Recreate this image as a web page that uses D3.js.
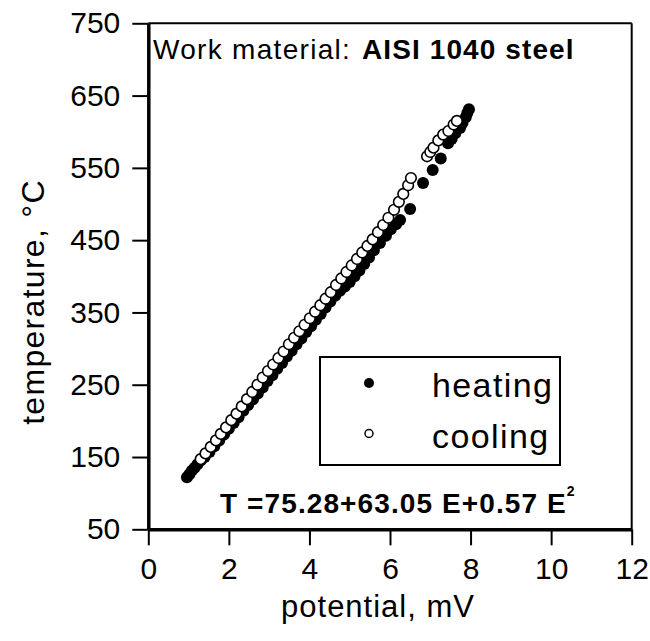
<!DOCTYPE html>
<html>
<head>
<meta charset="utf-8">
<script src="https://cdn.jsdelivr.net/npm/d3@7"></script>
<style>
  body { margin: 0; background: #fff; }
  svg { display: block; font-family: "Liberation Sans", Arial, sans-serif; }
</style>
</head>
<body>
<script>
var width = 650;
var height = 641;

// potential (mV) / temperature (C)
var heatingE = [0.96, 1.02, 1.08, 1.15, 1.22, 1.30, 1.40, 1.52, 1.64, 1.76, 1.88, 2.00, 2.12, 2.24,
  2.36, 2.48, 2.60, 2.72, 2.84, 2.96, 3.08, 3.20, 3.32, 3.44, 3.56, 3.68, 3.80, 3.92, 4.04, 4.16,
  4.28, 4.40, 4.52, 4.64, 4.76, 4.88, 5.00, 5.12, 5.24, 5.36, 5.48, 5.60, 5.75, 5.90, 6.02, 6.15,
  6.25, 6.50, 6.82, 7.06, 7.26, 7.44, 7.53, 7.62, 7.74, 7.80, 7.88, 7.92, 7.96];
var heatingT = [122, 126, 131, 135, 140, 145, 150, 157, 165, 173, 181, 189, 197, 205,
  214, 222, 230, 238, 246, 255, 263, 272, 280, 289, 297, 306, 314, 323, 331, 340,
  348, 357, 365, 373, 380, 386, 392, 400, 408, 417, 426, 436, 446, 456, 465, 472,
  478, 493, 529, 547, 563, 584, 590, 598, 605, 612, 620, 626, 631];

var coolingE = [1.30, 1.42, 1.55, 1.68, 1.80, 1.93, 2.06, 2.19, 2.32, 2.45, 2.58, 2.71, 2.84, 2.97,
  3.10, 3.23, 3.36, 3.49, 3.62, 3.75, 3.88, 4.01, 4.14, 4.27, 4.40, 4.53, 4.66, 4.79, 4.92, 5.05,
  5.18, 5.31, 5.44, 5.57, 5.70, 5.83, 5.96, 6.10, 6.22, 6.33, 6.45, 6.52, 6.92, 7.00, 7.08, 7.20,
  7.32, 7.45, 7.58, 7.66];
var coolingT = [147, 155, 164, 173, 182, 191, 201, 210, 220, 230, 240, 250, 260, 269,
  278, 287, 296, 306, 315, 324, 333, 342, 351, 360, 369, 378, 388, 397, 406, 415,
  424, 433, 442, 451, 461, 471, 481, 492, 503, 514, 526, 536, 566, 572, 578, 588,
  596, 601, 610, 615];

var xTicks = [0, 2, 4, 6, 8, 10, 12];
var yTicks = [50, 150, 250, 350, 450, 550, 650, 750];
var seriesNames = ['heating', 'cooling'];

var plotLeft = 148.3, plotRight = 631.7, plotTop = 23.3, plotBottom = 529.3;

var svg = d3.select('body').append('svg')
  .attr('width', width)
  .attr('height', height)
  .attr('viewBox', '0 0 ' + width + ' ' + height);

var x = d3.scaleLinear().domain([0, 12]).range([plotLeft, plotRight]);
var y = d3.scaleLinear().domain([50, 750]).range([plotBottom, plotTop]);

var heating = heatingE.map(function(e, i) { return { e: e, t: heatingT[i] }; });
var cooling = coolingE.map(function(e, i) { return { e: e, t: coolingT[i] }; });

// frame, top and right are thinner
svg.append('line')
  .attr('x1', plotLeft).attr('x2', plotRight)
  .attr('y1', plotTop).attr('y2', plotTop)
  .attr('stroke', '#000').attr('stroke-width', 2);
svg.append('line')
  .attr('x1', plotRight).attr('x2', plotRight)
  .attr('y1', plotTop).attr('y2', plotBottom)
  .attr('stroke', '#000').attr('stroke-width', 2);

var xAxis = svg.append('g')
  .attr('transform', 'translate(0,' + plotBottom + ')')
  .call(d3.axisBottom(x).tickValues(xTicks).tickSize(16).tickSizeOuter(0).tickPadding(12));
var yAxis = svg.append('g')
  .attr('transform', 'translate(' + plotLeft + ',0)')
  .call(d3.axisLeft(y).tickValues(yTicks).tickSize(16).tickSizeOuter(0).tickPadding(12));

[xAxis, yAxis].forEach(function(ax) {
  ax.select('.domain').attr('stroke', '#000').attr('stroke-width', 3.5);
  ax.selectAll('.tick line').attr('stroke', '#000').attr('stroke-width', 2);
  ax.selectAll('.tick text')
    .attr('fill', '#000')
    .style('font-family', '"Liberation Sans", Arial, sans-serif')
    .style('font-size', '30px');
});

// points
svg.append('g').selectAll('circle')
  .data(heating)
  .enter().append('circle')
  .attr('cx', function(d) { return x(d.e); })
  .attr('cy', function(d) { return y(d.t); })
  .attr('r', 6)
  .attr('fill', '#000');

svg.append('g').selectAll('circle')
  .data(cooling)
  .enter().append('circle')
  .attr('cx', function(d) { return x(d.e); })
  .attr('cy', function(d) { return y(d.t); })
  .attr('r', 5.3)
  .attr('fill', '#fff')
  .attr('stroke', '#000')
  .attr('stroke-width', 1.6);

// header text
var head = svg.append('text')
  .attr('y', 59.3)
  .attr('font-size', 28)
  .attr('letter-spacing', 1.3)
  .attr('fill', '#000');
head.append('tspan').attr('x', 153).text('Work material:');
head.append('tspan').attr('x', 362).attr('font-weight', 'bold').attr('letter-spacing', 1.1).text('AISI 1040 steel');

// legend
var legend = svg.append('g');
legend.append('rect')
  .attr('x', 320).attr('y', 357)
  .attr('width', 240).attr('height', 108)
  .attr('fill', 'none')
  .attr('stroke', '#000')
  .attr('stroke-width', 2);

legend.selectAll('g.item')
  .data(seriesNames)
  .enter().append('g')
  .attr('class', 'item')
  .attr('transform', function(d, i) { return 'translate(0,' + (i * 50.5) + ')'; })
  .each(function(d, i) {
    var g = d3.select(this);
    g.append('circle')
      .attr('cx', 369).attr('cy', 383)
      .attr('r', i === 0 ? 5 : 4)
      .attr('fill', i === 0 ? '#000' : '#fff')
      .attr('stroke', '#000')
      .attr('stroke-width', i === 0 ? 0 : 1.5);
    g.append('text')
      .attr('x', 432).attr('y', 397)
      .attr('font-size', 34)
      .attr('letter-spacing', 1.4)
      .attr('fill', '#000')
      .text(d);
  });

// fitted equation
var eq = svg.append('text')
  .attr('x', 220).attr('y', 513.3)
  .attr('font-size', 28)
  .attr('font-weight', 'bold')
  .attr('letter-spacing', 1.1)
  .attr('fill', '#000');
eq.append('tspan').text('T =75.28+63.05 E+0.57 E');
eq.append('tspan').attr('font-size', 14).attr('dy', -17).text('2');

// axis titles
svg.append('text')
  .attr('x', 378).attr('y', 617)
  .attr('text-anchor', 'middle')
  .attr('font-size', 31)
  .attr('letter-spacing', 1)
  .attr('fill', '#000')
  .text('potential, mV');

svg.append('text')
  .attr('transform', 'translate(44,302) rotate(-90)')
  .attr('text-anchor', 'middle')
  .attr('font-size', 32)
  .attr('letter-spacing', 1.3)
  .attr('fill', '#000')
  .text('temperature, °C');
</script>
</body>
</html>
